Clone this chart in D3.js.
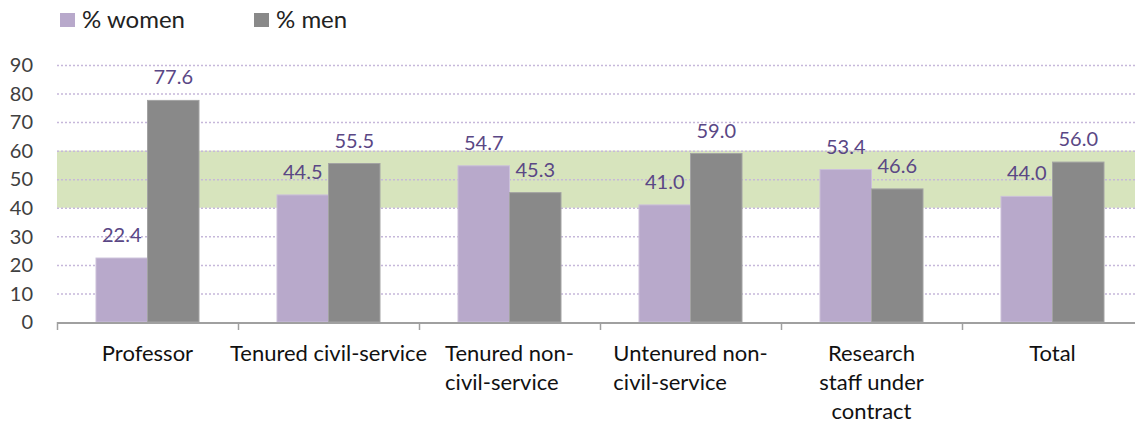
<!DOCTYPE html>
<html>
<head>
<meta charset="utf-8">
<script src="https://cdn.jsdelivr.net/npm/d3@7"></script>
<style>
  body { margin: 0; background: #fff; }
  svg { display: block; font-family: Lato, "Open Sans", sans-serif; }
</style>
</head>
<body>
<div id="chart"></div>
<script>
// data
const CATEGORIES = ["Professor", "Tenured civil-service", "Tenured non-civil-service",
  "Untenured non-civil-service", "Research staff under contract", "Total"];
// how each category label is broken into lines
const CATEGORY_LINES = [
  ["Professor"],
  ["Tenured civil-service"],
  ["Tenured non-", "civil-service"],
  ["Untenured non-", "civil-service"],
  ["Research", "staff under", "contract"],
  ["Total"]
];
const WOMEN = [22.4, 44.5, 54.7, 41.0, 53.4, 44.0];
const MEN = [77.6, 55.5, 45.3, 59.0, 46.6, 56.0];
const SERIES = ["% women", "% men"];
const Y_TICKS = [0, 10, 20, 30, 40, 50, 60, 70, 80, 90];
const PARITY_BAND = [40, 60];

const COLORS = { "% women": "#b8a9cb", "% men": "#898989" };
const STROKES = { "% women": "#cbc0da", "% men": "#a3a3a3" };

var width = 1135,
    height = 424;

var svg = d3.select("#chart").append("svg")
  .attr("width", width)
  .attr("height", height)
  .attr("viewBox", [0, 0, width, height]);

const left = 57, right = 1143;

const x = d3.scaleBand()
  .domain(CATEGORIES)
  .range([left, right]);
const x1 = d3.scaleBand()
  .domain(SERIES)
  .range([39, x.bandwidth() - 39]);
const y = d3.scaleLinear()
  .domain([0, 90])
  .range([322, 65]);

// green 40-60 band
svg.append("rect")
  .attr("x", left)
  .attr("width", width - left)
  .attr("y", y(PARITY_BAND[1]))
  .attr("height", y(PARITY_BAND[0]) - y(PARITY_BAND[1]))
  .attr("fill", "#d7e4bd");

// dotted grid
svg.append("g")
  .selectAll("line")
  .data(Y_TICKS.filter(d => d > 0))
  .join("line")
    .attr("x1", left)
    .attr("x2", width)
    .attr("y1", d => y(d) + 0.5)
    .attr("y2", d => y(d) + 0.5)
    .attr("stroke", "#c6b8da")
    .attr("stroke-width", 1.5)
    .attr("stroke-dasharray", "2,2");

// y tick labels
svg.append("g")
  .selectAll("text")
  .data(Y_TICKS)
  .join("text")
    .attr("x", 33)
    .attr("y", d => y(d))
    .attr("dy", "0.36em")
    .attr("text-anchor", "end")
    .attr("fill", "#404040")
    .style("font-size", "20px")
    .text(d => d);

// bars
var rows = CATEGORIES.map((c, i) => ({ cat: c, values: [
  { key: "% women", value: WOMEN[i] },
  { key: "% men", value: MEN[i] }
]}));

var groups = svg.append("g")
  .selectAll("g")
  .data(rows)
  .join("g")
    .attr("transform", d => "translate(" + x(d.cat) + ",0)");

groups.selectAll("rect")
  .data(d => d.values)
  .join("rect")
    .attr("x", d => x1(d.key))
    .attr("width", x1.bandwidth())
    .attr("y", d => y(d.value))
    .attr("height", d => y(0) - y(d.value))
    .attr("fill", d => COLORS[d.key])
    .attr("stroke", d => STROKES[d.key])
    .attr("stroke-width", 1);

groups.selectAll("text")
  .data(d => d.values)
  .join("text")
    .attr("x", d => x1(d.key) + x1.bandwidth() / 2)
    .attr("y", d => y(d.value) - 16)
    .attr("text-anchor", "middle")
    .attr("fill", "#5a4785")
    .style("font-size", "20px")
    .text(d => d.value.toFixed(1));

// x axis line and ticks
svg.append("line")
  .attr("x1", left)
  .attr("x2", right)
  .attr("y1", y(0) + 1)
  .attr("y2", y(0) + 1)
  .attr("stroke", "#a0a0a0")
  .attr("stroke-width", 2);

svg.append("g")
  .selectAll("line")
  .data(CATEGORIES)
  .join("line")
    .attr("x1", d => x(d) + 0.5)
    .attr("x2", d => x(d) + 0.5)
    .attr("y1", y(0))
    .attr("y2", y(0) + 8)
    .attr("stroke", "#a0a0a0")
    .attr("stroke-width", 1.5);

// category labels
var catLabels = svg.append("g")
  .selectAll("text")
  .data(CATEGORIES)
  .join("text")
    .attr("fill", "#111")
    .style("font-size", "22px")
    .attr("text-anchor", "middle")
    .attr("x", d => x(d) + x.bandwidth() / 2)
    .attr("y", 361);

catLabels.selectAll("tspan")
  .data((d, i) => CATEGORY_LINES[i])
  .join("tspan")
    .attr("x", function() { return this.parentNode.getAttribute("x"); })
    .attr("dy", (d, i) => i === 0 ? 0 : 29)
    .text(d => d);

// hyphen-broken labels: second line starts where the first one does
catLabels.each(function(d, i) {
  var lines = CATEGORY_LINES[i];
  if (lines.length === 2 && lines[0].endsWith("-")) {
    var spans = d3.select(this).selectAll("tspan").nodes();
    var first = spans[0].getComputedTextLength();
    var startX = x(d) + x.bandwidth() / 2 - first / 2;
    d3.select(this).attr("text-anchor", "start");
    d3.select(spans[0]).attr("x", startX);
    d3.select(spans[1]).attr("x", startX);
  }
});

// legend
var legend = svg.append("g")
  .selectAll("g")
  .data(SERIES)
  .join("g")
    .attr("transform", (d, i) => "translate(" + (60 + i * 194) + ",13)");

legend.append("rect")
  .attr("width", 15)
  .attr("height", 14)
  .attr("fill", d => COLORS[d]);

legend.append("text")
  .attr("x", 22)
  .attr("y", 15)
  .attr("fill", "#222")
  .style("font-size", "24px")
  .text(d => d);
</script>
</body>
</html>
